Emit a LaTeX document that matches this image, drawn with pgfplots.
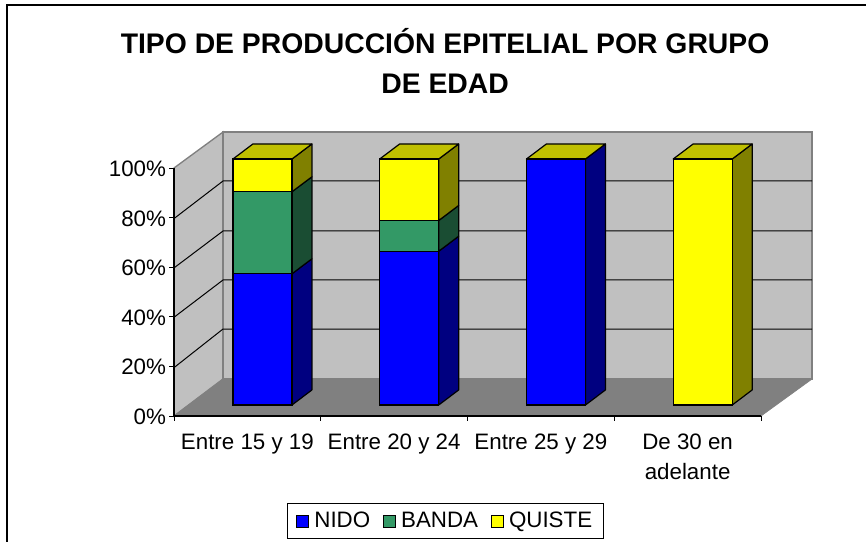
\documentclass[border=0pt]{standalone}
\usepackage{pgfplots}
\pgfplotsset{compat=1.18}
\usepackage{fontspec}
\setmainfont{Liberation Sans}
\definecolor{wall}{HTML}{C0C0C0}
\definecolor{floorc}{HTML}{808080}
\definecolor{nido}{HTML}{0000FF}
\definecolor{nidos}{HTML}{000080}
\definecolor{banda}{HTML}{339966}
\definecolor{bandas}{HTML}{1A4D33}
\definecolor{quiste}{HTML}{FFFF00}
\definecolor{quistes}{HTML}{808000}
\definecolor{topc}{HTML}{C0C000}
\begin{document}
\begin{tikzpicture}
\useasboundingbox (0,0) rectangle (649.5pt,406.5pt);
\fill[white] (0,0) rectangle (649.5pt,406.5pt);
\draw[black,line width=1.1pt] (649.5pt,402.75pt) -- (5.25pt,402.75pt) -- (5.25pt,0pt);
% walls, floor, grid, axes (front plane)
\begin{axis}[
  at={(130.5pt,94.5pt)},anchor=south west,scale only axis,
  width=440.25pt,height=186pt,
  xmin=0,xmax=4,ymin=0,ymax=100,clip=false,
  axis x line*=bottom,axis y line*=left,
  axis line style={black,line width=0.8pt},
  axis on top=true,
  xtick={0.5,1.5,2.5,3.5},
  xticklabels={Entre 15 y 19,Entre 20 y 24,Entre 25 y 29,De 30 en\\adelante},
  xticklabel style={align=center,font=\fontsize{16.75}{22.5}\selectfont,yshift=-6.5pt},
  major x tick style={draw=none},
  minor xtick={0,1,2,3,4},
  minor x tick style={black,line width=0.7pt},
  minor tick length=3.5pt,
  ytick={0,20,40,60,80,100},
  yticklabels={0\%,20\%,40\%,60\%,80\%,100\%},
  yticklabel style={font=\fontsize{16.75}{20}\selectfont,xshift=1pt,yshift=-0.6pt},
  major y tick style={black,line width=0.7pt},
  major tick length=3.5pt,
  tick align=outside,
]
\addplot[fill=wall,draw=floorc,line width=1pt] coordinates {(0,0)(0.334,14.92)(0.334,114.5)(0,100)} --cycle;
\addplot[fill=wall,draw=floorc,line width=1pt] coordinates {(0.334,14.92)(4.348,14.92)(4.348,114.5)(0.334,114.5)} --cycle;
\addplot[fill=floorc,draw=floorc,line width=0.5pt] coordinates {(0,0)(4,0)(4.348,14.92)(0.334,14.92)} --cycle;
\addplot[black,line width=0.75pt] coordinates {(0,19.5)(0.334,35.08)(4.348,35.08)};
\addplot[black,line width=0.75pt] coordinates {(0,39.8)(0.334,54.84)(4.348,54.84)};
\addplot[black,line width=0.75pt] coordinates {(0,59.7)(0.334,74.6)(4.348,74.6)};
\addplot[black,line width=0.75pt] coordinates {(0,79.6)(0.334,94.76)(4.348,94.76)};
\end{axis}
% side and top faces of the bars
\begin{axis}[
  at={(141.8pt,102.75pt)},anchor=south west,scale only axis,
  width=440.25pt,height=184.5pt,
  xmin=0,xmax=4,ymin=0,ymax=100,clip=false,hide axis,
]
\pgfplotsset{every axis plot/.append style={draw=black,line width=0.9pt,line join=round}}
% bar 1
\addplot[fill=nidos] coordinates {(0.701,0)(0.837,6.1)(0.837,59.43)(0.701,53.33)} --cycle;
\addplot[fill=bandas] coordinates {(0.701,53.33)(0.837,59.43)(0.837,92.77)(0.701,86.67)} --cycle;
\addplot[fill=quistes] coordinates {(0.701,86.67)(0.837,92.77)(0.837,106.1)(0.701,100)} --cycle;
\addplot[fill=topc] coordinates {(0.299,100)(0.435,106.1)(0.837,106.1)(0.701,100)} --cycle;
% bar 2
\addplot[fill=nidos] coordinates {(1.701,0)(1.837,6.1)(1.837,68.6)(1.701,62.5)} --cycle;
\addplot[fill=bandas] coordinates {(1.701,62.5)(1.837,68.6)(1.837,81.1)(1.701,75)} --cycle;
\addplot[fill=quistes] coordinates {(1.701,75)(1.837,81.1)(1.837,106.1)(1.701,100)} --cycle;
\addplot[fill=topc] coordinates {(1.299,100)(1.435,106.1)(1.837,106.1)(1.701,100)} --cycle;
% bar 3
\addplot[fill=nidos] coordinates {(2.701,0)(2.837,6.1)(2.837,106.1)(2.701,100)} --cycle;
\addplot[fill=topc] coordinates {(2.299,100)(2.435,106.1)(2.837,106.1)(2.701,100)} --cycle;
% bar 4
\addplot[fill=quistes] coordinates {(3.701,0)(3.837,6.1)(3.837,106.1)(3.701,100)} --cycle;
\addplot[fill=topc] coordinates {(3.299,100)(3.435,106.1)(3.837,106.1)(3.701,100)} --cycle;
\end{axis}
% front faces of the stacked bars, and the legend
\begin{axis}[
  at={(141.8pt,102.75pt)},anchor=south west,scale only axis,
  width=440.25pt,height=184.5pt,
  xmin=0,xmax=4,ymin=0,ymax=100,clip=false,hide axis,
  ybar stacked,bar width=44.25pt,
  legend columns=3,
  legend style={at={(0.4368,-0.4715)},anchor=center,draw=black,line width=0.6pt,
    font=\fontsize{16.75}{20}\selectfont,
    /tikz/every even column/.append style={column sep=7.5pt},
    /tikz/every odd column/.append style={column sep=2pt},
    inner xsep=6.5pt,inner ysep=4.75pt},
  legend image code/.code={\draw[#1,line width=0.7pt] (0pt,-4.5pt) rectangle (9pt,4.5pt);},
]
\addplot[fill=nido,draw=black,line width=0.9pt] coordinates {(0.5,53.33)(1.5,62.5)(2.5,100)(3.5,0)};
\addlegendentry{NIDO}
\addplot[fill=banda,draw=black,line width=0.9pt] coordinates {(0.5,33.34)(1.5,12.5)(2.5,0)(3.5,0)};
\addlegendentry{BANDA}
\addplot[fill=quiste,draw=black,line width=0.9pt] coordinates {(0.5,13.33)(1.5,25)(2.5,0)(3.5,100)};
\addlegendentry{QUISTE}
\end{axis}
\node[align=center,font=\fontsize{21.25}{30}\selectfont\bfseries,anchor=center] at (333.8pt,361pt)
  {TIPO DE PRODUCCIÓN EPITELIAL POR GRUPO\\DE EDAD};
\end{tikzpicture}
\end{document}
